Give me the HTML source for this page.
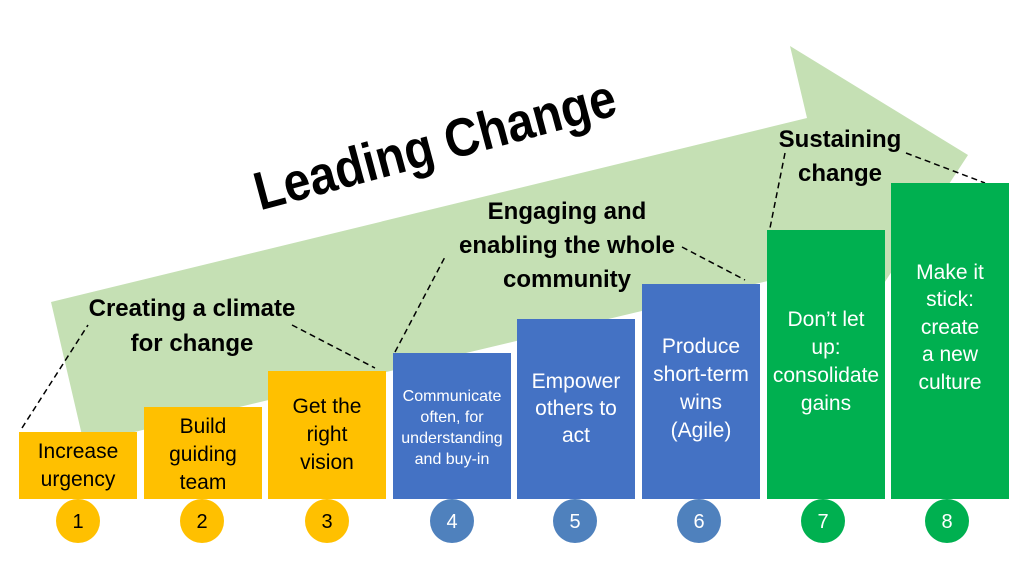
<!DOCTYPE html>
<html><head><meta charset="utf-8"><style>
html,body{margin:0;padding:0;background:#fff;}
svg{display:block;font-family:"Liberation Sans",sans-serif;}
</style></head><body>
<svg width="1024" height="576" viewBox="0 0 1024 576" xmlns="http://www.w3.org/2000/svg">
<polygon points="51,302 807,118 790,46 968,155 860,320 835,265 84,444" fill="#C5E0B4"/>
<text x="435" y="163" font-size="54" font-weight="bold" text-anchor="middle" textLength="372" lengthAdjust="spacingAndGlyphs" transform="rotate(-15 435 145)">Leading Change</text>
<g stroke="#000" stroke-width="1.5" stroke-dasharray="6,4" fill="none">
<line x1="22" y1="428" x2="88" y2="325"/>
<line x1="292" y1="325" x2="375" y2="368"/>
<line x1="395" y1="352" x2="446" y2="255"/>
<line x1="682" y1="247" x2="745" y2="280"/>
<line x1="785" y1="153" x2="770" y2="228"/>
<line x1="906" y1="153" x2="985" y2="183"/>
</g>
<g font-size="24" font-weight="bold" text-anchor="middle">
<text x="192" y="316">Creating a climate</text>
<text x="192" y="351">for change</text>
<text x="567" y="219">Engaging and</text>
<text x="567" y="253">enabling the whole</text>
<text x="567" y="287">community</text>
<text x="840" y="147">Sustaining</text>
<text x="840" y="181">change</text>
</g>
<g>
<rect x="19" y="432" width="118" height="67" fill="#FFC000"/>
<rect x="144" y="407" width="118" height="92" fill="#FFC000"/>
<rect x="268" y="371" width="118" height="128" fill="#FFC000"/>
<rect x="393" y="353" width="118" height="146" fill="#4472C4"/>
<rect x="517" y="319" width="118" height="180" fill="#4472C4"/>
<rect x="642" y="284" width="118" height="215" fill="#4472C4"/>
<rect x="767" y="230" width="118" height="269" fill="#00B050"/>
<rect x="891" y="183" width="118" height="316" fill="#00B050"/>
</g>
<g font-size="21" text-anchor="middle" fill="#000">
<text x="78" y="458">Increase</text><text x="78" y="486">urgency</text>
<text x="203" y="433">Build</text><text x="203" y="461">guiding</text><text x="203" y="489">team</text>
<text x="327" y="413">Get the</text><text x="327" y="441">right</text><text x="327" y="469">vision</text>
</g>
<g font-size="16" text-anchor="middle" fill="#fff">
<text x="452" y="401">Communicate</text><text x="452" y="422">often, for</text><text x="452" y="443">understanding</text><text x="452" y="464">and buy-in</text>
</g>
<g font-size="21" text-anchor="middle" fill="#fff">
<text x="576" y="388">Empower</text><text x="576" y="415">others to</text><text x="576" y="442">act</text>
<text x="701" y="353">Produce</text><text x="701" y="381">short-term</text><text x="701" y="409">wins</text><text x="701" y="437">(Agile)</text>
<text x="826" y="326">Don’t let</text><text x="826" y="354">up:</text><text x="826" y="382">consolidate</text><text x="826" y="410">gains</text>
<text x="950" y="279">Make it</text><text x="950" y="306">stick:</text><text x="950" y="334">create</text><text x="950" y="361">a new</text><text x="950" y="389">culture</text>
</g>
<g>
<circle cx="78" cy="521" r="22" fill="#FFC000"/>
<circle cx="202" cy="521" r="22" fill="#FFC000"/>
<circle cx="327" cy="521" r="22" fill="#FFC000"/>
<circle cx="452" cy="521" r="22" fill="#4F81BD"/>
<circle cx="575" cy="521" r="22" fill="#4F81BD"/>
<circle cx="699" cy="521" r="22" fill="#4F81BD"/>
<circle cx="823" cy="521" r="22" fill="#00B050"/>
<circle cx="947" cy="521" r="22" fill="#00B050"/>
</g>
<g font-size="20" text-anchor="middle">
<text x="78" y="528" fill="#000">1</text>
<text x="202" y="528" fill="#000">2</text>
<text x="327" y="528" fill="#000">3</text>
<text x="452" y="528" fill="#fff">4</text>
<text x="575" y="528" fill="#fff">5</text>
<text x="699" y="528" fill="#fff">6</text>
<text x="823" y="528" fill="#fff">7</text>
<text x="947" y="528" fill="#fff">8</text>
</g>
</svg>
</body></html>
